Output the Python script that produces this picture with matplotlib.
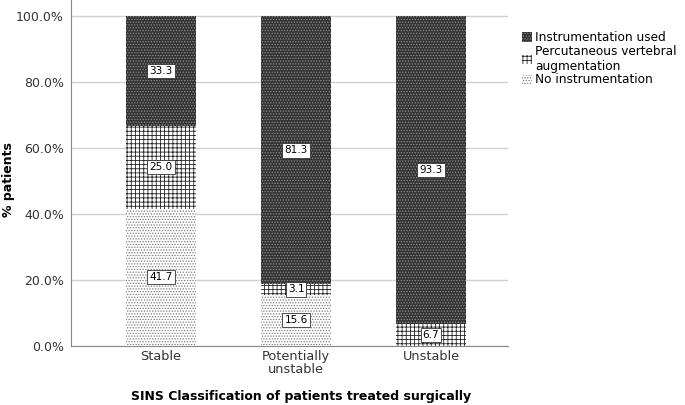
import matplotlib.pyplot as plt
import numpy as np

categories = ["Stable", "Potentially\nunstable", "Unstable"]
no_instr = [41.7, 15.6, 0.0]
percutaneous = [25.0, 3.1, 6.7]
instrumented = [33.3, 81.3, 93.3]
series_names = ["Instrumentation used", "Percutaneous vertebral\naugmentation", "No instrumentation"]

plt.rcParams['font.family'] = ['DejaVu Sans']
plt.rcParams['hatch.linewidth'] = 0.6

fig = plt.figure(figsize=(6.85, 4.05), dpi=100)
ax = fig.add_axes([0.1036, 0.1457, 0.638, 0.8543])

x = np.arange(len(categories))
w = 0.52

b1 = ax.bar(x, no_instr, w, color='white', edgecolor='#7a7a7a', hatch='......', linewidth=0, zorder=2)
b2 = ax.bar(x, percutaneous, w, bottom=no_instr, color='white', edgecolor='#222222', hatch='++++', linewidth=0, zorder=2)
bottom3 = np.array(no_instr) + np.array(percutaneous)
b3 = ax.bar(x, instrumented, w, bottom=bottom3, color='#333333', edgecolor='#8f8f8f', hatch='......', linewidth=0, zorder=2)

box = dict(boxstyle='square,pad=0.2', facecolor='white', edgecolor='#333333', linewidth=0.6)
for i in range(len(categories)):
    stacks = [(no_instr[i], 0), (percutaneous[i], no_instr[i]), (instrumented[i], bottom3[i])]
    for val, base in stacks:
        if val > 0:
            ax.text(x[i], base + val / 2, f"{val:.1f}", ha='center', va='center',
                    fontsize=7.5, bbox=box, zorder=5)

ax.set_xlim(-0.667, 2.57)
ax.set_ylim(0, 105)
ax.set_yticks([0, 20, 40, 60, 80, 100])
ax.set_yticklabels([f"{v:.1f}%" for v in [0, 20, 40, 60, 80, 100]], fontsize=9, color='#333333')
ax.set_xticks(x)
ax.set_xticklabels(categories, fontsize=9.3, color='#333333', linespacing=0.95)
ax.tick_params(axis='x', length=0, pad=3)
ax.tick_params(axis='y', length=0, pad=5)
ax.yaxis.grid(True, color='#d0d0d0', linewidth=1, zorder=0)
ax.set_axisbelow(True)
for s in ['top', 'right']:
    ax.spines[s].set_visible(False)
for s in ['left', 'bottom']:
    ax.spines[s].set_color('#888888')

ax.set_ylabel("% patients", fontsize=9, fontweight='bold', va='center')
ax.yaxis.set_label_coords(-0.144, 0.48)
ax.set_xlabel("SINS Classification of patients treated surgically", fontsize=9, fontweight='bold', va='center')
ax.xaxis.set_label_coords(0.526, -0.147)

leg = fig.legend([b3, b2, b1], series_names, loc='upper left', bbox_to_anchor=(0.755, 0.935),
                 frameon=False, fontsize=8.7, handlelength=0.8, handleheight=0.8,
                 handletextpad=0.3, labelspacing=0.05, borderaxespad=0)

fig.savefig("out.png", dpi=100)
